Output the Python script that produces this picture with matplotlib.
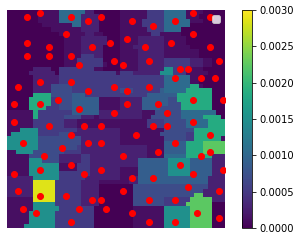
import numpy as np
import matplotlib
matplotlib.use('Agg')
import matplotlib.pyplot as plt

W, H = 301, 241

# density value for each letter in the grid rows below
levels = {'0': 0.0, '1': 0.00012, '2': 0.00028, '3': 0.00052, '4': 0.0007, '5': 0.0009,
          '6': 0.00105, '7': 0.0015, '9': 0.00185, 'a': 0.00225, 'y': 0.00285}

# 50 x 50 cells, top row first
rows = [
    "00000001111166666622000000" "111111333366666111100000",
    "00000001111166666222200000" "111111333366666111000000",
    "00000001111166666222200000" "111113333366666611100000",
    "00000000111111166222200000" "111113333366666600000000",
    "00000000001111111222200000" "111111333366660000000000",
    "00000000000011111122110000" "111111133111110000000000",
    "00000000000001111222222000" "111122222211111000000000",
    "00000000000001111222222000" "111122222211111000000000",
    "00000000000001111222220000" "111222222211111100000000",
    "00000000000001111222220000" "111122222211111111000000",
    "00000000000001111333220000" "111122222211111111000000",
    "00000000000001113333330000" "111122222233333322211000",
    "00000000000001113333331000" "111122222233333322211000",
    "00000022220033333333110000" "111122222277333111100000",
    "00000222222033333333333331" "333222222777333111110000",
    "00000022222233333333333333" "333333333366666611000000",
    "00000022222233333333333333" "333333333366666611000000",
    "00000022224444433333333333" "333333333366666699100000",
    "00000022224444433333333333" "444333333566666999999000",
    "00000099994444455533333333" "333333555555599999999000",
    "00000999993344455555511111" "222225555554499999999000",
    "00000999993344455555511111" "222225555554449999999000",
    "00000999933344455555511111" "222225555444449999999000",
    "11111193333333355555522222" "222221114444446666666600",
    "11111193333334444222122222" "222221144444446666699990",
    "11111133333332221111111111" "111111333344444666669999",
    "11111133333332221111111111" "111111333344444666669999",
    "11177773333333332222222222" "111111111144444449999999",
    "17777773333344422222222222" "111111111444444339999999",
    "77777774444444444222222222" "111111111144444339999991",
    "77777774444444444222222222" "1111111111555559999aaaaa",
    "77777774444444443222222222" "2222221111555559999aaaaa",
    "11777744444443333222222222" "2222221111555559999aaaaa",
    "11111444444422222332222222" "222222111166666999999222",
    "11111777444422222332222222" "222255555557777755555222",
    "11111777777711113332222222" "222255555557777755555222",
    "11111777777711113332222222" "111155555557777755555222",
    "11111777777733333332222222" "111155555557777755555222",
    "22222277777733333322222222" "112255555555555555552222",
    "222222yyyyy333333222211111" "112255555555555555552222",
    "222222yyyyy333333222200000" "000444444444444444442222",
    "222222yyyyy333333222200000" "000444444444444444422222",
    "222222yyyyy333333222200000" "00044444444444444aa22222",
    "111111yyyyy333333222200000" "0004444444333333aaaaa222",
    "11111177777333333222200000" "000444444433333aaaaaa000",
    "11111177777733333333000000" "0001111111777777aaaaa000",
    "11111777777333333333000000" "0001111111777777aaaaa000",
    "11111777777333333333000000" "0001111111777777aaaaa000",
    "11111777777333333333000000" "0001111111777777aaaaa000",
    "11117777777333333333000000" "0001111111777777aaaaa000",
]

# red markers, grid column and row of each
point_col = [7, 42, 4, 14, 21, 46, 18, 28, 38, 33, 13, 42, 27, 4, 23, 37, 9, 19, 31, 46,
             4, 9, 14, 24, 32, 48, 16, 26, 39, 41, 38, 44, 47, 7, 14, 2, 24, 32, 18, 27,
             11, 42, 49, 1, 7, 27, 34, 16, 24, 36, 1, 42, 9, 17, 21, 33, 36, 14, 29, 46,
             3, 18, 21, 38, 12, 34, 46, 8, 26, 44, 14, 39, 7, 21, 49, 1, 17, 42, 28, 33,
             41, 2, 26, 48, 7, 13, 19, 21, 32, 38, 3, 16, 22, 6, 28, 43, 48, 14, 32, 38]
point_row = [0, 0, 1, 1, 1, 1, 2, 2, 2, 3, 5, 5, 6, 7, 7, 7, 8, 8, 8, 8,
             10, 10, 10, 11, 11, 11, 12, 12, 13, 13, 15, 15, 15, 16, 16, 17, 17, 17, 18, 18,
             20, 20, 20, 21, 21, 21, 21, 22, 23, 23, 25, 25, 26, 26, 26, 26, 26, 28, 28, 28,
             30, 30, 30, 30, 31, 32, 32, 33, 33, 33, 35, 35, 36, 36, 36, 37, 37, 37, 38, 38,
             40, 41, 41, 41, 42, 42, 43, 43, 43, 43, 45, 45, 45, 46, 46, 46, 47, 48, 48, 48]

for row in rows:
    assert len(row) == 50, row
grid = np.array([[levels[ch] for ch in row] for row in rows])

fig = plt.figure(figsize=(W / 72, H / 72), dpi=72)
ax = fig.add_axes([7 / W, 1 - 228 / H, 218 / W, 218 / H])
cax = fig.add_axes([241.5 / W, 1 - 228 / H, 10.7 / W, 218 / H])

im = ax.imshow(grid, cmap='viridis', vmin=0, vmax=0.003, interpolation='nearest',
               aspect='auto', extent=(-0.6, 49.4, 49.4, -0.6))
ax.plot(point_col, point_row, 'o', color='red', ms=6)
ax.set_xlim(-0.6, 49.4)
ax.set_ylim(49.4, -0.6)
ax.legend(handles=[], loc='upper right')
ax.axis('off')

cb = fig.colorbar(im, cax=cax)
cb.set_ticks([0, 0.0005, 0.001, 0.0015, 0.002, 0.0025, 0.003])
cb.ax.set_yticklabels(['0.0000', '0.0005', '0.0010', '0.0015', '0.0020', '0.0025', '0.0030'])

fig.savefig('out.png', dpi=72)
